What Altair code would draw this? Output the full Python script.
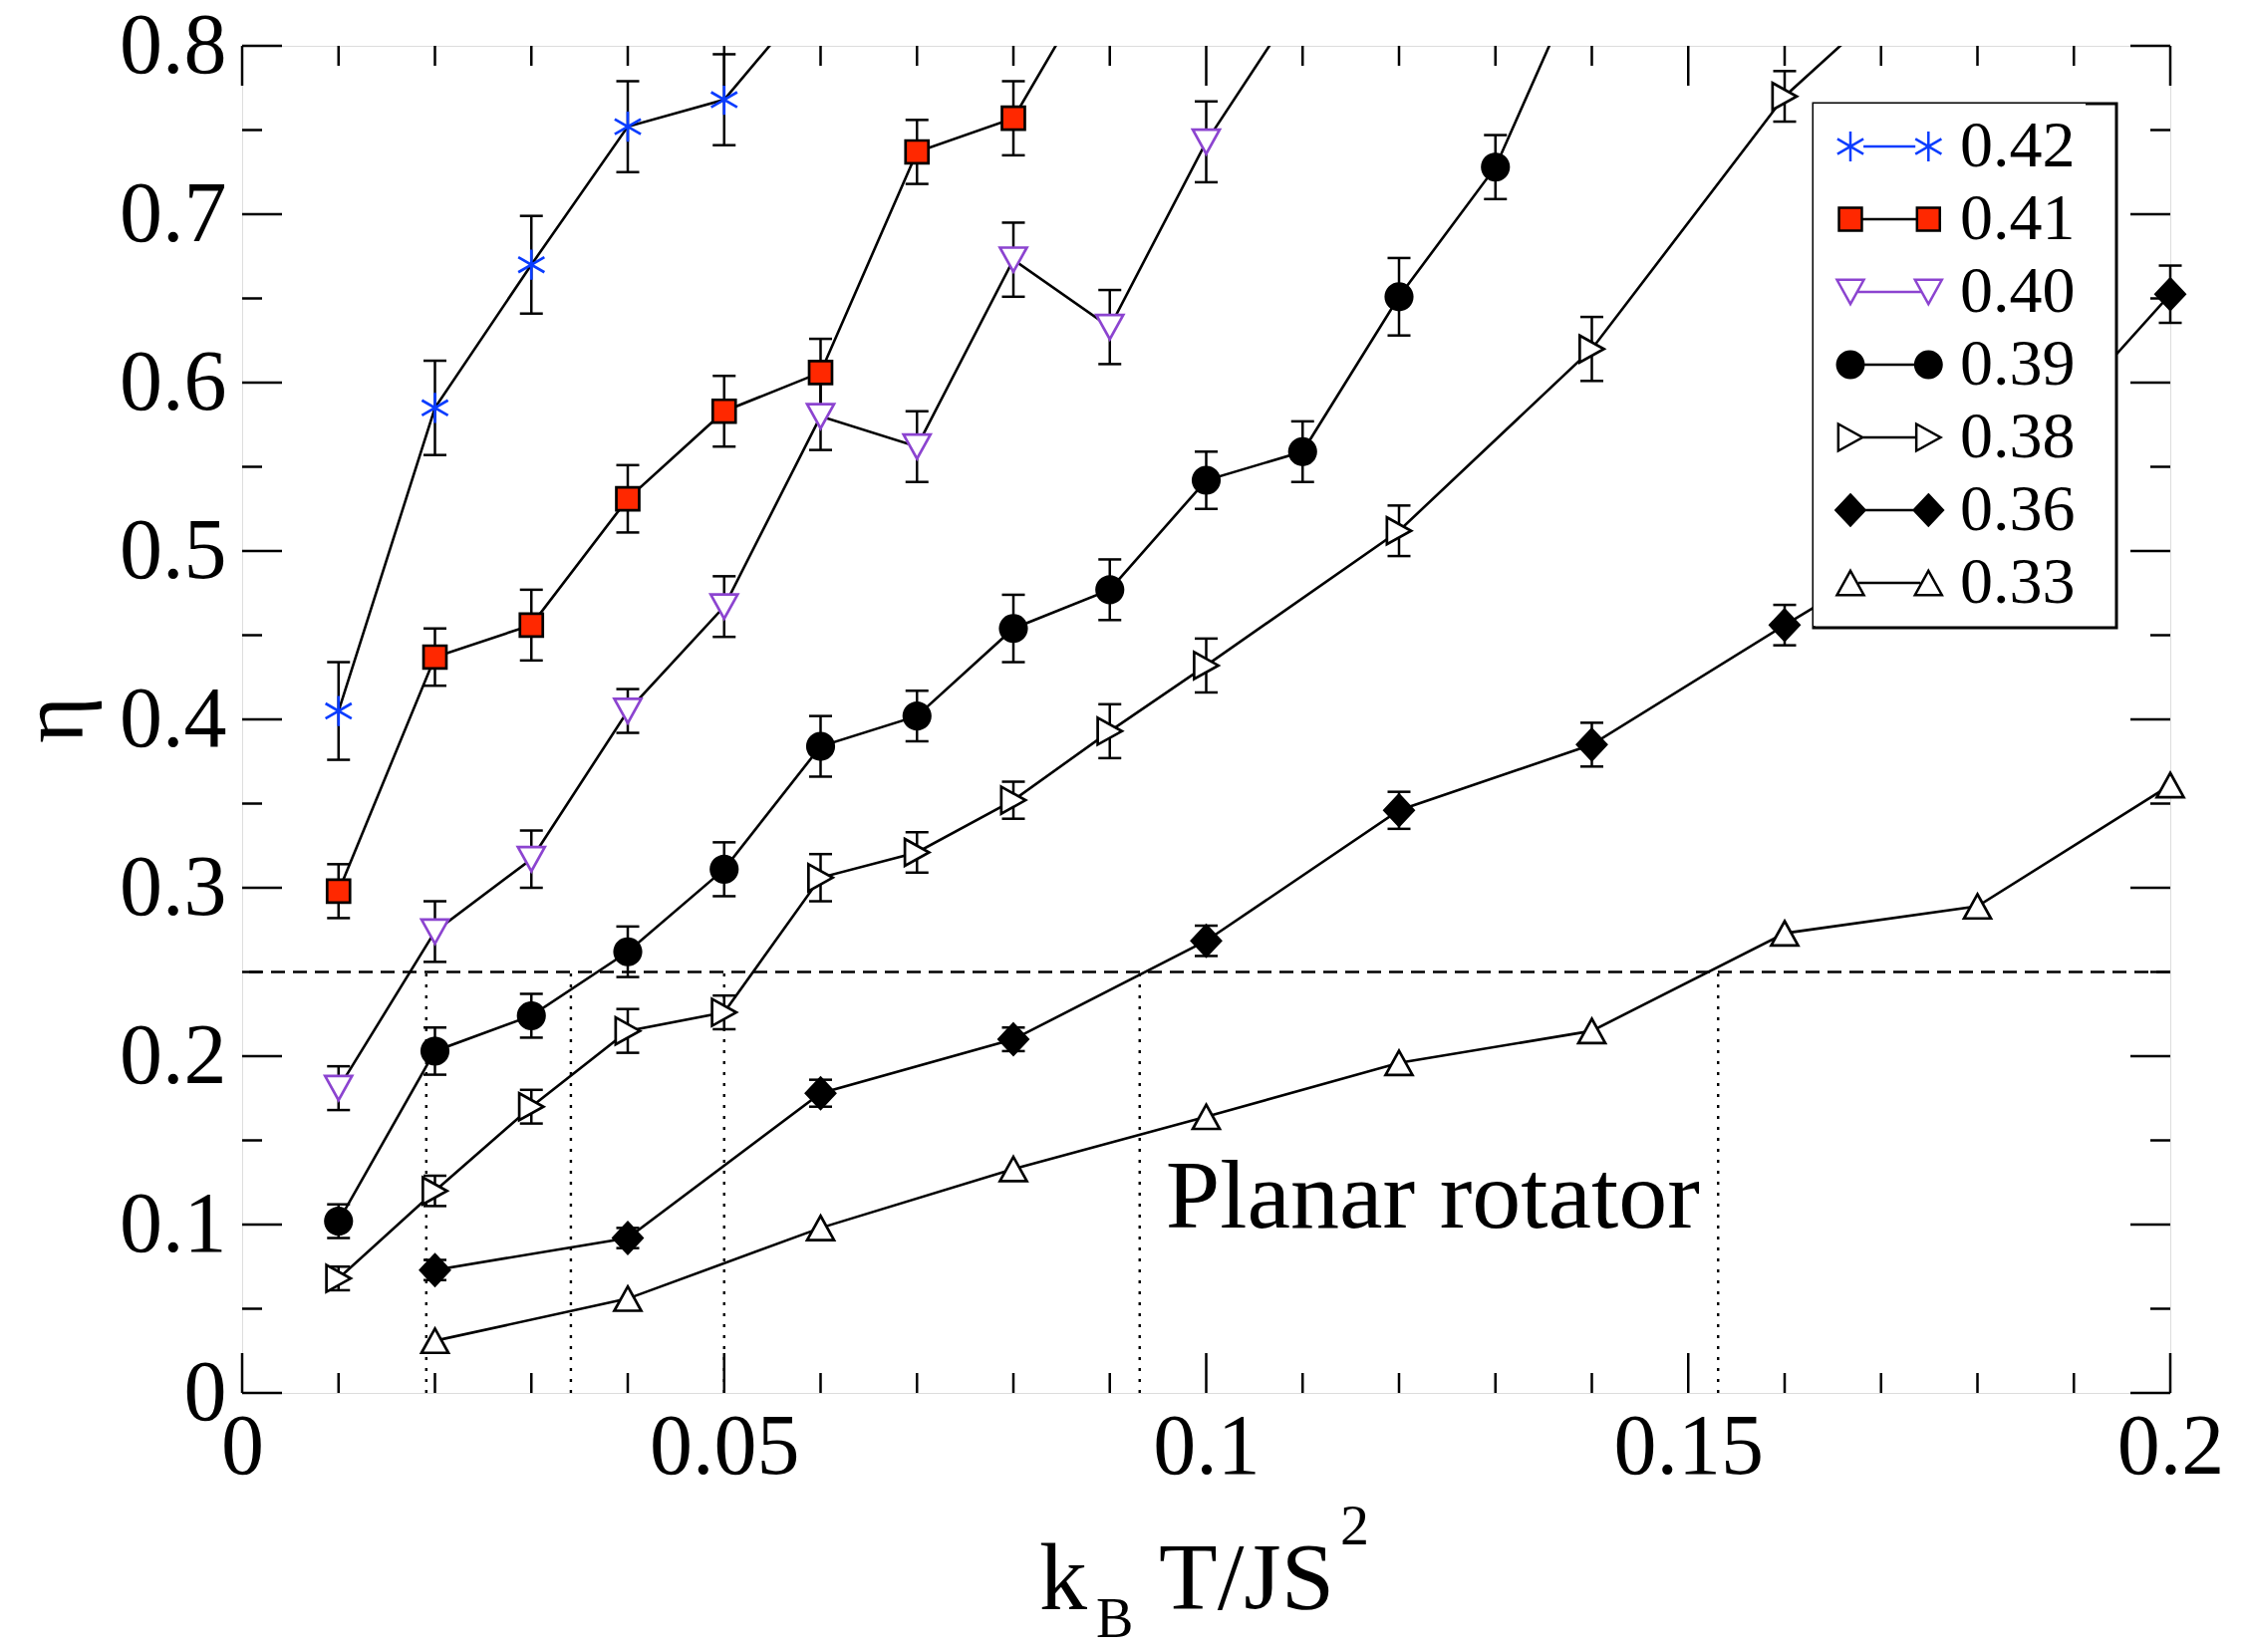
import math
import altair as alt
import pandas as pd

# ---------------- data ----------------
series_names = ["0.42", "0.41", "0.40", "0.39", "0.38", "0.36", "0.33"]

T_042 = [0.01, 0.02, 0.03, 0.04, 0.05, 0.06]
eta_042 = [0.405, 0.585, 0.670, 0.752, 0.768, 0.836]
err_042 = [0.029, 0.028, 0.029, 0.027, 0.027, None]

T_041 = [0.01, 0.02, 0.03, 0.04, 0.05, 0.06, 0.07, 0.08, 0.09]
eta_041 = [0.298, 0.437, 0.456, 0.531, 0.583, 0.606, 0.737, 0.757, 0.855]
err_041 = [0.016, 0.017, 0.021, 0.020, 0.021, 0.020, 0.019, 0.022, None]

T_040 = [0.01, 0.02, 0.03, 0.04, 0.05, 0.06, 0.07, 0.08, 0.09, 0.10, 0.11]
eta_040 = [0.181, 0.274, 0.317, 0.405, 0.467, 0.580, 0.562, 0.673, 0.633, 0.743, 0.830]
err_040 = [0.013, 0.018, 0.017, 0.013, 0.018, 0.020, 0.021, 0.022, 0.022, 0.024, None]

T_039 = [0.01, 0.02, 0.03, 0.04, 0.05, 0.06, 0.07, 0.08, 0.09, 0.10, 0.11, 0.12, 0.13, 0.14]
eta_039 = [0.102, 0.203, 0.224, 0.262, 0.311, 0.384, 0.402, 0.454, 0.477, 0.542, 0.559, 0.651, 0.728, 0.857]
err_039 = [0.010, 0.014, 0.013, 0.015, 0.016, 0.018, 0.015, 0.020, 0.018, 0.017, 0.018, 0.023, 0.019, None]

T_038 = [0.01, 0.02, 0.03, 0.04, 0.05, 0.06, 0.07, 0.08, 0.09, 0.10, 0.12, 0.14, 0.16, 0.18]
eta_038 = [0.068, 0.120, 0.170, 0.215, 0.226, 0.306, 0.321, 0.352, 0.393, 0.432, 0.512, 0.620, 0.770, 0.874]
err_038 = [0.007, 0.009, 0.010, 0.013, 0.010, 0.014, 0.012, 0.011, 0.016, 0.016, 0.015, 0.019, 0.015, None]

T_036 = [0.02, 0.04, 0.06, 0.08, 0.10, 0.12, 0.14, 0.16, 0.18, 0.20]
eta_036 = [0.073, 0.092, 0.178, 0.210, 0.2685, 0.346, 0.385, 0.456, 0.525, 0.6525]
err_036 = [0.006, 0.006, 0.008, 0.007, 0.009, 0.011, 0.013, 0.012, 0.013, 0.017]

T_033 = [0.02, 0.04, 0.06, 0.08, 0.10, 0.12, 0.14, 0.16, 0.18, 0.20]
eta_033 = [0.031, 0.056, 0.098, 0.133, 0.164, 0.196, 0.215, 0.273, 0.289, 0.361]
err_033 = [None] * 10

x_major = [0, 0.05, 0.1, 0.15, 0.2]
x_minor = [0.01, 0.02, 0.03, 0.04, 0.06, 0.07, 0.08, 0.09,
           0.11, 0.12, 0.13, 0.14, 0.16, 0.17, 0.18, 0.19]
y_major = [0, 0.1, 0.2, 0.3, 0.4, 0.5, 0.6, 0.7, 0.8]
y_minor = [0.05, 0.15, 0.25, 0.35, 0.45, 0.55, 0.65, 0.75]

threshold_eta = [0.25]
crossing_T = [0.0191, 0.0341, 0.0500, 0.0931, 0.1531]

note_T = [0.0958]
note_eta = [0.098]
note_text = ["Planar rotator"]

# ---------------- styling ----------------
FONT = "Liberation Serif"
W, H = 1935, 1352
fill_colors = ["white", "#ff2800", "white", "black", "white", "black", "white"]
stroke_colors = ["#0a3cff", "black", "#8c44d0", "black", "black", "black", "black"]


def poly(pts, dx=0.0):
    return "M" + "L".join(f"{x + dx:.3f},{y:.3f}" for x, y in pts) + "Z"


def segs(lines, dx=0.0):
    return "".join(f"M{a[0] + dx:.3f},{a[1]:.3f}L{b[0] + dx:.3f},{b[1]:.3f}" for a, b in lines)


circle_pts = [(0.98 * math.cos(2 * math.pi * i / 32), 0.98 * math.sin(2 * math.pi * i / 32)) for i in range(32)]
shape_defs = [
    ("seg", [((0, -1.12), (0, 1.12)), ((-0.97, -0.56), (0.97, 0.56)), ((-0.97, 0.56), (0.97, -0.56))], 0.97),
    ("poly", [(-0.85, -0.85), (0.85, -0.85), (0.85, 0.85), (-0.85, 0.85)], 0.85),
    ("poly", [(-1, -0.9), (1, -0.9), (0, 0.9)], 0.55),
    ("poly", circle_pts, 0.98),
    ("poly", [(-0.9, -1), (0.9, 0), (-0.9, 1)], 0.9),
    ("poly", [(0, -1.15), (1.08, 0), (0, 1.15), (-1.08, 0)], 1.08),
    ("poly", [(0, -0.9), (1, 0.9), (-1, 0.9)], 0.6),
]


def marker(kind, geo, dx=0.0):
    return segs(geo, dx) if kind == "seg" else poly(geo, dx)


D = 5.8
data_paths = [marker(k, g) for k, g, _ in shape_defs]
legend_paths = [marker(k, g) + f"M{a:.3f},0L{D - a:.3f},0" + marker(k, g, D) for k, g, a in shape_defs]

# ---------------- tables ----------------
rows = []
for name, Ts, es, ers in [
    ("0.42", T_042, eta_042, err_042), ("0.41", T_041, eta_041, err_041),
    ("0.40", T_040, eta_040, err_040), ("0.39", T_039, eta_039, err_039),
    ("0.38", T_038, eta_038, err_038), ("0.36", T_036, eta_036, err_036),
    ("0.33", T_033, eta_033, err_033)]:
    for t, e, er in zip(Ts, es, ers):
        rows.append({"series": name, "T": t, "eta": e,
                     "lo": None if er is None else e - er,
                     "hi": None if er is None else e + er})
df = pd.DataFrame(rows)
df_err = df.dropna(subset=["lo"]).copy()
df_vis = df[df["eta"] <= 0.8].copy()
df_leg = pd.DataFrame({"series": series_names, "T": [None] * 7, "eta": [None] * 7})

xs = alt.Scale(domain=[0, 0.2], nice=False, zero=False)
ys = alt.Scale(domain=[0, 0.8], nice=False, zero=False)
AX = alt.Axis(values=x_major, format="~g", title=None, ticks=False, domain=False, grid=False,
              labelFont=FONT, labelFontSize=86, labelColor="black", labelPadding=12,
              labelFlush=False, labelOverlap=False)
AY = alt.Axis(values=y_major, format="~g", title="η", ticks=False, domain=False, grid=False,
              labelFont=FONT, labelFontSize=86, labelColor="black", labelPadding=16,
              labelOverlap=False, titleFont=FONT, titleFontSize=90, titleFontWeight="normal",
              titleColor="black", titlePadding=18)


def X(field):
    return alt.X(field, scale=xs, axis=AX)


def Y(field):
    return alt.Y(field, scale=ys, axis=AY)


legend = alt.Legend(
    title=None, orient="none", legendX=1577, legendY=58,
    fillColor="white", padding=10, rowPadding=7,
    labelFont=FONT, labelFontSize=66, labelColor="black", labelOffset=77, labelLimit=400,
    symbolSize=729, symbolStrokeWidth=2.5, symbolOffset=-6, symbolOpacity=1,
)

# white box with black border behind the legend entries
legend_box = alt.Chart(pd.DataFrame({"k": [0]})).mark_rect(
    fill="white", stroke="black", strokeWidth=3).encode(
    x=alt.value(1577), x2=alt.value(1881), y=alt.value(58), y2=alt.value(584))

dashed = alt.Chart(pd.DataFrame({"eta": threshold_eta})).mark_rule(
    color="black", strokeWidth=2.5, strokeDash=[14, 8]).encode(y=Y("eta:Q"))

dotted = alt.Chart(pd.DataFrame({"T": crossing_T, "lo": [0] * len(crossing_T),
                                 "hi": threshold_eta * len(crossing_T)})).mark_rule(
    color="black", strokeWidth=2.4, strokeDash=[3, 8]).encode(x=X("T:Q"), y=Y("lo:Q"), y2="hi:Q")

err_rule = alt.Chart(df_err).mark_rule(color="black", strokeWidth=2.5).encode(
    x=X("T:Q"), y=Y("lo:Q"), y2="hi:Q")
cap_lo = alt.Chart(df_err).mark_tick(color="black", orient="horizontal", size=23, thickness=2.5, opacity=1).encode(
    x=X("T:Q"), y=Y("lo:Q"))
cap_hi = alt.Chart(df_err).mark_tick(color="black", orient="horizontal", size=23, thickness=2.5, opacity=1).encode(
    x=X("T:Q"), y=Y("hi:Q"))

lines = alt.Chart(df).mark_line(color="black", strokeWidth=2.6, clip=True).encode(
    x=X("T:Q"), y=Y("eta:Q"), detail="series:N", order="T:Q")

points = alt.Chart(df_vis).mark_point(size=729, strokeWidth=2.7, opacity=1, fillOpacity=1, filled=False).encode(
    x=X("T:Q"), y=Y("eta:Q"),
    shape=alt.Shape("series:N", scale=alt.Scale(domain=series_names, range=data_paths), legend=None),
    fill=alt.Fill("series:N", scale=alt.Scale(domain=series_names, range=fill_colors), legend=None),
    stroke=alt.Stroke("series:N", scale=alt.Scale(domain=series_names, range=stroke_colors), legend=None),
)

legend_layer = alt.Chart(df_leg).mark_point(size=729, strokeWidth=2.5, opacity=1, fillOpacity=1, filled=False).encode(
    x=X("T:Q"), y=Y("eta:Q"),
    shape=alt.Shape("series:N", scale=alt.Scale(domain=series_names, range=legend_paths), legend=legend),
    fill=alt.Fill("series:N", scale=alt.Scale(domain=series_names, range=fill_colors), legend=legend),
    stroke=alt.Stroke("series:N", scale=alt.Scale(domain=series_names, range=stroke_colors), legend=legend),
)

note = alt.Chart(pd.DataFrame({"T": note_T, "eta": note_eta, "txt": note_text})).mark_text(
    font=FONT, fontSize=98, align="left", baseline="alphabetic", color="black").encode(
    x=X("T:Q"), y=Y("eta:Q"), text="txt:N")

tick_layers = []
for vals, L in [(x_major, 40), (x_minor, 20)]:
    d = pd.DataFrame({"v": vals})
    tick_layers.append(alt.Chart(d).mark_rule(color="black", strokeWidth=2.5).encode(
        x=X("v:Q"), y=alt.value(H), y2=alt.value(H - L)))
    tick_layers.append(alt.Chart(d).mark_rule(color="black", strokeWidth=2.5).encode(
        x=X("v:Q"), y=alt.value(0), y2=alt.value(L)))
for vals, L in [(y_major, 40), (y_minor, 20)]:
    d = pd.DataFrame({"v": vals})
    tick_layers.append(alt.Chart(d).mark_rule(color="black", strokeWidth=2.5).encode(
        y=Y("v:Q"), x=alt.value(0), x2=alt.value(L)))
    tick_layers.append(alt.Chart(d).mark_rule(color="black", strokeWidth=2.5).encode(
        y=Y("v:Q"), x=alt.value(W), x2=alt.value(W - L)))

title_parts = []
for txt, px, py, fs in [("k", 800, 1569, 96), ("B", 857, 1597, 56), ("T/JS", 920, 1569, 96), ("2", 1102, 1504, 58)]:
    title_parts.append(alt.Chart(pd.DataFrame({"t": [txt]})).mark_text(
        font=FONT, fontSize=fs, align="left", baseline="alphabetic", color="black").encode(
        x=alt.value(px), y=alt.value(py), text="t:N"))

chart = alt.layer(
    dashed, dotted, err_rule, cap_lo, cap_hi, lines, points, note, *tick_layers, legend_box, legend_layer,
    *title_parts
).resolve_scale(
    shape="independent", fill="independent", stroke="independent"
).properties(
    width=W, height=H,
    autosize=alt.AutoSizeParams(type="none"),
    padding={"left": 243, "top": 46, "right": 78, "bottom": 260},
    background="white",
).configure_view(stroke="black", strokeWidth=3).configure(font=FONT)

chart.save("out.html", embed_options={"renderer": "svg", "actions": False})
